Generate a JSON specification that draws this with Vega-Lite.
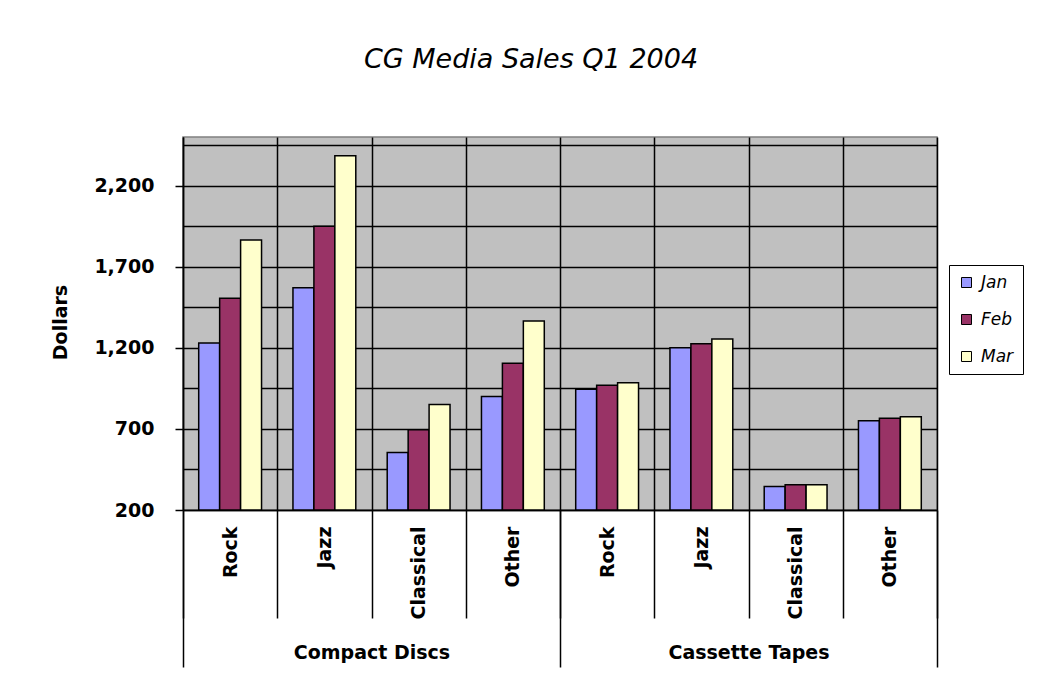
{
  "$schema": "https://vega.github.io/schema/vega-lite/v6.json",
  "autosize": "none",
  "width": 754,
  "height": 373,
  "padding": {"left": 183, "top": 137, "right": 106, "bottom": 190},
  "background": "white",
  "title": {
    "text": "CG Media Sales Q1 2004",
    "font": "DejaVu Sans",
    "fontStyle": "italic",
    "fontWeight": "normal",
    "fontSize": 27,
    "color": "black",
    "anchor": "middle",
    "dx": -29,
    "offset": 63
  },
  "data": {
    "values": [
      {"key": "Compact Discs|Rock", "group": "Compact Discs", "genre": "Rock", "month": "Jan", "value": 1230},
      {"key": "Compact Discs|Rock", "group": "Compact Discs", "genre": "Rock", "month": "Feb", "value": 1505},
      {"key": "Compact Discs|Rock", "group": "Compact Discs", "genre": "Rock", "month": "Mar", "value": 1865},
      {"key": "Compact Discs|Jazz", "group": "Compact Discs", "genre": "Jazz", "month": "Jan", "value": 1570},
      {"key": "Compact Discs|Jazz", "group": "Compact Discs", "genre": "Jazz", "month": "Feb", "value": 1950},
      {"key": "Compact Discs|Jazz", "group": "Compact Discs", "genre": "Jazz", "month": "Mar", "value": 2385},
      {"key": "Compact Discs|Classical", "group": "Compact Discs", "genre": "Classical", "month": "Jan", "value": 555},
      {"key": "Compact Discs|Classical", "group": "Compact Discs", "genre": "Classical", "month": "Feb", "value": 695},
      {"key": "Compact Discs|Classical", "group": "Compact Discs", "genre": "Classical", "month": "Mar", "value": 850},
      {"key": "Compact Discs|Other", "group": "Compact Discs", "genre": "Other", "month": "Jan", "value": 900},
      {"key": "Compact Discs|Other", "group": "Compact Discs", "genre": "Other", "month": "Feb", "value": 1105},
      {"key": "Compact Discs|Other", "group": "Compact Discs", "genre": "Other", "month": "Mar", "value": 1365},
      {"key": "Cassette Tapes|Rock", "group": "Cassette Tapes", "genre": "Rock", "month": "Jan", "value": 945},
      {"key": "Cassette Tapes|Rock", "group": "Cassette Tapes", "genre": "Rock", "month": "Feb", "value": 970},
      {"key": "Cassette Tapes|Rock", "group": "Cassette Tapes", "genre": "Rock", "month": "Mar", "value": 985},
      {"key": "Cassette Tapes|Jazz", "group": "Cassette Tapes", "genre": "Jazz", "month": "Jan", "value": 1200},
      {"key": "Cassette Tapes|Jazz", "group": "Cassette Tapes", "genre": "Jazz", "month": "Feb", "value": 1225},
      {"key": "Cassette Tapes|Jazz", "group": "Cassette Tapes", "genre": "Jazz", "month": "Mar", "value": 1255},
      {"key": "Cassette Tapes|Classical", "group": "Cassette Tapes", "genre": "Classical", "month": "Jan", "value": 345},
      {"key": "Cassette Tapes|Classical", "group": "Cassette Tapes", "genre": "Classical", "month": "Feb", "value": 355},
      {"key": "Cassette Tapes|Classical", "group": "Cassette Tapes", "genre": "Classical", "month": "Mar", "value": 355},
      {"key": "Cassette Tapes|Other", "group": "Cassette Tapes", "genre": "Other", "month": "Jan", "value": 750},
      {"key": "Cassette Tapes|Other", "group": "Cassette Tapes", "genre": "Other", "month": "Feb", "value": 765},
      {"key": "Cassette Tapes|Other", "group": "Cassette Tapes", "genre": "Other", "month": "Mar", "value": 775}
    ]
  },
  "layer": [
    {
      "mark": {"type": "bar", "stroke": "black", "strokeWidth": 1.5},
      "encoding": {
        "x": {
          "field": "key",
          "type": "nominal",
          "sort": null,
          "scale": {"paddingInner": 0, "paddingOuter": 0},
          "axis": {
            "orient": "bottom",
            "title": null,
            "labelExpr": "split(datum.label, '|')[1]",
            "labelAngle": -90,
            "labelAlign": "right",
            "labelBaseline": "middle",
            "labelPadding": -92,
            "labelFont": "DejaVu Sans",
            "labelFontWeight": "bold",
            "labelFontSize": 19,
            "labelColor": "black",
            "tickBand": "extent",
            "tickSize": 108,
            "tickColor": "black",
            "tickWidth": 1.5,
            "domainColor": "black",
            "domainWidth": 1.5,
            "grid": true,
            "gridColor": "black",
            "gridWidth": 1.5,
            "gridOpacity": 1
          }
        },
        "xOffset": {
          "field": "month",
          "type": "nominal",
          "sort": ["Jan", "Feb", "Mar"],
          "scale": {"paddingInner": 0, "paddingOuter": 0.75}
        },
        "y": {
          "field": "value",
          "type": "quantitative",
          "scale": {"domain": [200, 2500], "zero": false, "nice": false},
          "axis": {
            "title": "Dollars",
            "titleFont": "DejaVu Sans",
            "titleFontWeight": "bold",
            "titleFontSize": 19,
            "titleColor": "black",
            "titleAngle": -90,
            "titleAlign": "center",
            "titleBaseline": "middle",
            "titleX": -123,
            "titleY": 185,
            "values": [200, 450, 700, 950, 1200, 1450, 1700, 1950, 2200, 2450],
            "format": ",d",
            "labelExpr": "datum.value % 500 == 200 ? datum.label : ''",
            "labelFont": "DejaVu Sans",
            "labelFontWeight": "bold",
            "labelFontSize": 19,
            "labelColor": "black",
            "labelPadding": 21,
            "tickSize": 8,
            "tickColor": "black",
            "tickWidth": 1.5,
            "tickOpacity": {"condition": {"test": "datum.value % 500 == 200", "value": 1}, "value": 0},
            "domainColor": "black",
            "domainWidth": 1.5,
            "grid": true,
            "gridColor": "black",
            "gridWidth": 1.5,
            "gridOpacity": 1
          }
        },
        "y2": {"datum": 200},
        "color": {
          "field": "month",
          "type": "nominal",
          "scale": {"domain": ["Jan", "Feb", "Mar"], "range": ["#9999FF", "#993366", "#FFFFCC"]},
          "legend": {
            "title": null,
            "orient": "none",
            "legendX": 766,
            "legendY": 128,
            "strokeColor": "black",
            "fillColor": "white",
            "padding": 9,
            "rowPadding": 19,
            "symbolType": "square",
            "symbolSize": 100,
            "symbolStrokeColor": "black",
            "symbolStrokeWidth": 1,
            "labelFont": "DejaVu Sans",
            "labelFontStyle": "italic",
            "labelFontSize": 17,
            "labelColor": "black",
            "labelOffset": 6
          }
        }
      }
    },
    {
      "mark": {"type": "rule", "opacity": 0},
      "encoding": {
        "x": {
          "field": "group",
          "type": "nominal",
          "sort": null,
          "scale": {"paddingInner": 0, "paddingOuter": 0},
          "axis": {
            "orient": "bottom",
            "title": null,
            "domain": false,
            "grid": false,
            "tickBand": "extent",
            "tickSize": 157,
            "tickColor": "black",
            "tickWidth": 1.5,
            "labelAngle": 0,
            "labelAlign": "center",
            "labelBaseline": "middle",
            "labelPadding": -15,
            "labelFont": "DejaVu Sans",
            "labelFontWeight": "bold",
            "labelFontSize": 19,
            "labelColor": "black"
          }
        }
      }
    }
  ],
  "resolve": {"scale": {"x": "independent"}, "axis": {"x": "independent"}},
  "config": {
    "view": {"fill": "#C0C0C0", "stroke": "#808080", "strokeWidth": 1.5}
  }
}
